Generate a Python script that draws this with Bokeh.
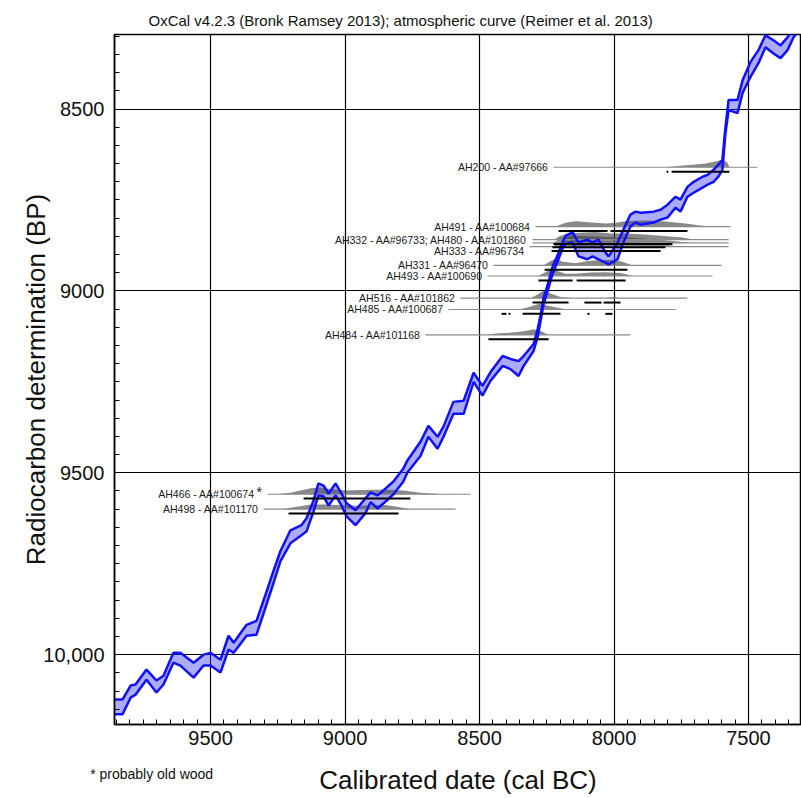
from bokeh.plotting import figure
from bokeh.models import Range1d, SingleIntervalTicker, FixedTicker, LinearAxis
from bokeh.embed import file_html
from bokeh.resources import INLINE
from bokeh.core.properties import value

FONT = "Liberation Sans"

# ---------------- calibration curve (1-sigma envelope) ----------------
curve_cal_bc = [9861, 9827, 9797, 9779, 9738, 9701, 9675, 9638, 9612, 9563, 9526, 9500, 9463,
                9433, 9414, 9366, 9329, 9296, 9266, 9240, 9203, 9162, 9143, 9117, 9099, 9080,
                9061, 9035, 9013, 8994, 8961, 8924, 8905, 8879, 8849, 8820, 8783, 8768, 8719,
                8690, 8656, 8634, 8597, 8559, 8522, 8489, 8459, 8414, 8385, 8355, 8336, 8299,
                8284, 8273, 8262, 8243, 8229, 8210, 8191, 8180, 8154, 8132, 8099, 8080, 8058,
                8032, 8020, 7987, 7965, 7939, 7920, 7901, 7853, 7827, 7801, 7771, 7753, 7727,
                7704, 7671, 7652, 7630, 7612, 7597, 7586, 7574, 7541, 7522, 7493, 7463, 7437,
                7407, 7381, 7355, 7333, 7303]
curve_bp_young = [10123, 10123, 10085, 10082, 10041, 10071, 10058, 9995, 9995, 10022, 10000, 9995, 10014,
                  9948, 9967, 9918, 9907, 9836, 9770, 9715, 9658, 9644, 9625, 9576, 9529, 9535,
                  9557, 9529, 9557, 9584, 9603, 9570, 9554, 9562, 9543, 9524, 9488, 9466, 9414,
                  9371, 9401, 9373, 9305, 9302, 9225, 9261, 9223, 9179, 9187, 9193, 9179, 9146,
                  9105, 9067, 9020, 8974, 8935, 8902, 8867, 8848, 8839, 8867, 8859, 8867, 8859,
                  8894, 8905, 8867, 8831, 8790, 8782, 8785, 8782, 8777, 8763, 8741, 8749, 8714,
                  8700, 8686, 8681, 8667, 8653, 8640, 8552, 8475, 8475, 8421, 8371, 8338, 8297,
                  8311, 8325, 8303, 8278, 8251]
curve_bp_old = [10164, 10164, 10118, 10110, 10069, 10104, 10082, 10022, 10030, 10063, 10030, 10030, 10049,
                9986, 9995, 9948, 9945, 9871, 9803, 9743, 9694, 9672, 9661, 9606, 9562, 9565,
                9590, 9562, 9590, 9620, 9644, 9611, 9581, 9598, 9579, 9559, 9524, 9499, 9453,
                9401, 9434, 9401, 9338, 9338, 9250, 9288, 9247, 9206, 9215, 9234, 9206, 9165,
                9127, 9083, 9037, 8990, 8954, 8919, 8883, 8870, 8867, 8905, 8913, 8905, 8913,
                8922, 8927, 8913, 8867, 8823, 8812, 8818, 8812, 8804, 8798, 8771, 8782, 8741,
                8730, 8716, 8708, 8700, 8686, 8667, 8568, 8503, 8511, 8456, 8412, 8374, 8330,
                8347, 8360, 8338, 8303, 8275]

# ---------------- samples ----------------
sample_ids = ["AH200", "AH491", "AH332", "AH480", "AH333", "AH331", "AH493", "AH516",
              "AH485", "AH484", "AH466", "AH498"]
sample_bp = [8660, 8823, 8859, 8868, 8878, 8930, 8959, 9020, 9051, 9121, 9559, 9600]
plot_from = [8225, 8292, 8303, 8303, 8314, 8448, 8470, 8571, 8615, 8701, 9288, 9303]
plot_to = [7467, 7567, 7574, 7574, 7574, 7600, 7634, 7727, 7771, 7939, 8533, 8589]

# calibrated probability distributions (cal BC, relative height)
dens_x_AH200 = [7809, 7753, 7697, 7660, 7623, 7597, 7578, 7571]
dens_h_AH200 = [0, 0.2, 0.35, 0.5, 0.75, 1.0, 0.6, 0]
dens_x_AH491 = [8217, 8180, 8143, 8106, 8069, 8032, 7994, 7957, 7901, 7846, 7790, 7734, 7678, 7641]
dens_h_AH491 = [0, 0.5, 0.7, 0.6, 0.5, 0.4, 0.5, 0.7, 0.8, 0.75, 0.6, 0.4, 0.15, 0]
dens_x_AH332 = [8225, 8199, 8162, 8125, 8069, 8013, 7957, 7901, 7827, 7753, 7697]
dens_h_AH332 = [0, 0.5, 0.8, 0.9, 1.0, 0.8, 0.8, 0.7, 0.5, 0.3, 0]
dens_x_AH480 = [8225, 8199, 8154, 8106, 8050, 7994, 7939, 7864, 7790, 7716]
dens_h_AH480 = [0, 0.6, 0.9, 0.9, 0.8, 0.7, 0.7, 0.5, 0.3, 0]
dens_x_AH333 = [8229, 8199, 8143, 8087, 8032, 7976, 7901, 7827, 7753]
dens_h_AH333 = [0, 0.6, 0.9, 0.8, 0.7, 0.6, 0.5, 0.3, 0]
dens_x_AH331 = [8262, 8236, 8214, 8191, 8143, 8095, 8050, 8006, 7968, 7931]
dens_h_AH331 = [0, 0.6, 0.9, 0.5, 0.3, 0.6, 0.7, 0.7, 0.5, 0]
dens_x_AH493 = [8281, 8255, 8236, 8214, 8180, 8143, 8087, 8032, 7976, 7928]
dens_h_AH493 = [0, 0.5, 0.9, 0.7, 0.3, 0.3, 0.45, 0.5, 0.4, 0]
dens_x_AH516 = [8310, 8284, 8262, 8236, 8199, 8162, 8032, 8006, 7976]
dens_h_AH516 = [0, 0.5, 1.0, 0.6, 0.15, 0, 0, 0.15, 0]
dens_x_AH485 = [8355, 8318, 8292, 8273, 8247, 8217, 8180]
dens_h_AH485 = [0, 0.3, 0.6, 0.8, 0.5, 0.3, 0]
dens_x_AH484 = [8467, 8441, 8403, 8366, 8329, 8299, 8273, 8243]
dens_h_AH484 = [0, 0.2, 0.25, 0.35, 0.5, 0.75, 0.5, 0]
dens_x_AH466 = [9258, 9203, 9165, 9128, 9091, 9054, 8998, 8942, 8887, 8831, 8775, 8719, 8645, 8571]
dens_h_AH466 = [0, 0.2, 0.5, 0.8, 0.9, 0.7, 0.5, 0.55, 0.6, 0.6, 0.45, 0.2, 0.05, 0]
dens_x_AH498 = [9240, 9184, 9128, 9072, 9017, 8961, 8905, 8849, 8801, 8757]
dens_h_AH498 = [0, 0.3, 0.6, 0.6, 0.5, 0.45, 0.5, 0.55, 0.3, 0]

# 95.4% ranges (from, to) cal BC
hpd_AH200 = [(7805, 7798), (7786, 7571)]
hpd_AH491 = [(8206, 8024), (8013, 7727)]
hpd_AH332 = [(8225, 7783)]
hpd_AH480 = [(8229, 7809)]
hpd_AH333 = [(8232, 7827)]
hpd_AH331 = [(8258, 7950)]
hpd_AH493 = [(8281, 8154), (8139, 7957)]
hpd_AH516 = [(8303, 8169), (8110, 8046), (8039, 7976)]
hpd_AH485 = [(8418, 8400), (8392, 8385), (8340, 8199), (8099, 8091), (8032, 8006)]
hpd_AH484 = [(8467, 8243)]
hpd_AH466 = [(9154, 8757)]
hpd_AH498 = [(9210, 8801)]

# labels
label_texts = ["AH200 - AA#97666", "AH491 - AA#100684", "AH332 - AA#96733; AH480 - AA#101860",
               "AH333 - AA#96734", "AH331 - AA#96470", "AH493 - AA#100690", "AH516 - AA#101862",
               "AH485 - AA#100687", "AH484 - AA#101168", "AH498 - AA#101170"]
label_bp = [8660, 8823, 8861, 8889, 8930, 8959, 9020, 9051, 9121, 9600]
label_at = [8225, 8292, 8303, 8314, 8448, 8470, 8571, 8615, 8701, 9303]
starred_label = "AH466 - AA#100674"
starred_bp = 9559
starred_at = 9288

title_text = "OxCal v4.2.3 (Bronk Ramsey 2013); atmospheric curve (Reimer et al. 2013)"
footnote_text = "* probably old wood"
footnote_at = 9719
tick_interval = 500
y_tick_overrides = {10000: "10,000"}

dens = {
    "AH200": (dens_x_AH200, dens_h_AH200, hpd_AH200),
    "AH491": (dens_x_AH491, dens_h_AH491, hpd_AH491),
    "AH332": (dens_x_AH332, dens_h_AH332, hpd_AH332),
    "AH480": (dens_x_AH480, dens_h_AH480, hpd_AH480),
    "AH333": (dens_x_AH333, dens_h_AH333, hpd_AH333),
    "AH331": (dens_x_AH331, dens_h_AH331, hpd_AH331),
    "AH493": (dens_x_AH493, dens_h_AH493, hpd_AH493),
    "AH516": (dens_x_AH516, dens_h_AH516, hpd_AH516),
    "AH485": (dens_x_AH485, dens_h_AH485, hpd_AH485),
    "AH484": (dens_x_AH484, dens_h_AH484, hpd_AH484),
    "AH466": (dens_x_AH466, dens_h_AH466, hpd_AH466),
    "AH498": (dens_x_AH498, dens_h_AH498, hpd_AH498),
}

DENS_H = 21     # BP units for relative height 1
BAR_OFF = 12    # BP units below baseline

p = figure(width=801, height=797,
           x_range=Range1d(9857, 7303), y_range=Range1d(10192, 8295),
           output_backend="svg", toolbar_location=None,
           min_border_left=114, min_border_right=0, min_border_top=34, min_border_bottom=70,
           background_fill_color="white", border_fill_color="white")

p.title.text = title_text
p.title.align = "left"
p.title.offset = 34
p.title.vertical_align = "middle"
p.title.text_font = FONT
p.title.text_font_size = "15px"
p.title.text_font_style = "normal"
p.title.text_color = "#111111"

# curve fill
p.varea(x=curve_cal_bc, y1=curve_bp_young, y2=curve_bp_old, fill_color="#3a3aff", fill_alpha=0.42)

# densities
xs, ys = [], []
for sid, bp in zip(sample_ids, sample_bp):
    dx, dh, _ = dens[sid]
    xs.append(dx)
    ys.append([bp - h * DENS_H for h in dh])
p.patches(xs=xs, ys=ys, fill_color="#404040", fill_alpha=0.62, line_color=None)

# baselines
p.segment(x0=plot_from, y0=sample_bp, x1=plot_to, y1=sample_bp, line_color="#8a8a8a", line_width=1.2)

# curve outline
p.line(curve_cal_bc, curve_bp_young, line_color="#1010ff", line_width=2.5)
p.line(curve_cal_bc, curve_bp_old, line_color="#1010ff", line_width=2.5)

# 95% ranges
bx0, bx1, by = [], [], []
for sid, bp in zip(sample_ids, sample_bp):
    for a, b in dens[sid][2]:
        bx0.append(a); bx1.append(b); by.append(bp + BAR_OFF)
p.segment(x0=bx0, y0=by, x1=bx1, y1=by, line_color="black", line_width=2)

# labels
p.text(x=label_at, y=label_bp, text=label_texts, text_align="right", text_baseline="middle",
       x_offset=-5, text_font=value(FONT), text_font_size="10.5px", text_color="#1a1a1a")
p.text(x=[starred_at], y=[starred_bp], text=[starred_label], text_align="right", text_baseline="middle",
       x_offset=-13, text_font=value(FONT), text_font_size="10.5px", text_color="#1a1a1a")
p.text(x=[starred_at], y=[starred_bp], text=["*"], text_align="left", text_baseline="middle",
       x_offset=-11, y_offset=-2, text_font=value(FONT), text_font_size="14px", text_color="#1a1a1a")

# axes
for ax in (p.xaxis[0], p.yaxis[0]):
    ax.ticker = SingleIntervalTicker(interval=tick_interval, num_minor_ticks=10)
    ax.major_tick_in = 7
    ax.major_tick_out = 0
    ax.minor_tick_in = 5
    ax.minor_tick_out = 0
    ax.axis_line_color = "black"
    ax.axis_line_width = 1.5
    ax.major_tick_line_color = "black"
    ax.minor_tick_line_color = "black"
    ax.major_label_text_font = FONT
    ax.major_label_text_font_size = "20px"
    ax.major_label_text_color = "#111111"
    ax.axis_label_text_font = FONT
    ax.axis_label_text_font_size = "26px"
    ax.axis_label_text_font_style = "normal"
    ax.axis_label_text_color = "#111111"

p.xaxis.major_label_standoff = 6
p.yaxis.axis_label = "Radiocarbon determination (BP)"
p.yaxis.major_label_standoff = 10
p.yaxis.axis_label_standoff = -11
p.yaxis.major_label_orientation = "horizontal"
p.yaxis.major_label_overrides = y_tick_overrides

# second bottom axis: carries the footnote (as a tick label) and the axis title
ax2 = LinearAxis(ticker=FixedTicker(ticks=[footnote_at]),
                 major_label_overrides={footnote_at: footnote_text},
                 axis_line_color=None, major_tick_line_color=None, minor_tick_line_color=None,
                 major_label_standoff=12, major_label_text_font=FONT,
                 major_label_text_font_size="14px", major_label_text_color="#111111",
                 axis_label="Calibrated date (cal BC)", axis_label_standoff=-20,
                 axis_label_text_font=FONT, axis_label_text_font_size="26px",
                 axis_label_text_font_style="normal", axis_label_text_color="#111111")
p.add_layout(ax2, "below")

for g in (p.xgrid[0], p.ygrid[0]):
    g.grid_line_color = "black"
    g.grid_line_width = 1.2
p.outline_line_color = "black"
p.outline_line_width = 1.5

open("out.html", "w").write(file_html(p, INLINE))
